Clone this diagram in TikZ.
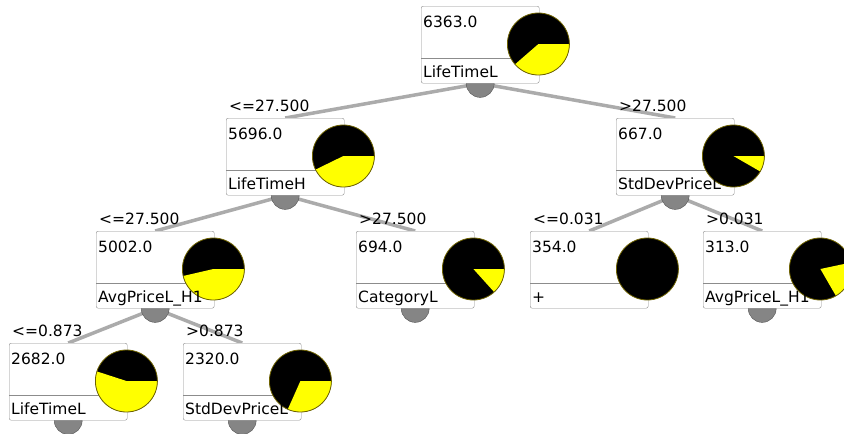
\documentclass[tikz,border=0pt]{standalone}
\usepackage{fontspec}
\setmainfont{DejaVu Sans}
\usetikzlibrary{calc}
\pgfdeclarelayer{bglayer}
\pgfdeclarelayer{edgelayer}
\pgfdeclarelayer{knoblayer}
\pgfsetlayers{bglayer,edgelayer,knoblayer,main}
\definecolor{boxgray}{HTML}{8C8C8C}
\definecolor{edgegray}{HTML}{ABABAB}
\definecolor{knobfill}{HTML}{858585}
\definecolor{knobline}{HTML}{555555}
\definecolor{pieyellow}{HTML}{FFFF00}
\definecolor{pieline}{HTML}{6E6200}
\tikzset{
  box/.style={draw=boxgray, fill=white, rounded corners=2pt, minimum width=118pt,
    minimum height=77pt, inner sep=0pt, anchor=north west},
  knob/.style={circle, draw=knobline, fill=knobfill, minimum size=28pt, inner sep=0pt},
  treeedge/.style={draw=edgegray, line width=3.5pt},
  txt/.style={anchor=base west, inner sep=0pt, font=\fontsize{15.5pt}{18pt}\selectfont},
  piering/.style={draw=pieline, line width=0.8pt},
}
\newcommand\tnode[7]{%
  \node[box] (#1) at (#2,#3) {};
  \draw[boxgray] ($(#1.north west)+(0,52)$) -- ($(#1.north east)+(0,52)$);
  \coordinate (#1-pc) at ($(#1.north east)+(-1,38)$);
  \fill[black] (#1-pc) circle[radius=31pt];
  \ifdim #6pt=#7pt\else
  \fill[pieyellow] (#1-pc) -- ++(#6:31pt) arc[start angle=#6, end angle=#7, radius=31pt] -- cycle;
  \fi
  \draw[piering] (#1-pc) circle[radius=31pt];
  \node[txt] (#1-count) at ($(#1.north west)+(2,21)$) {#4};
  \node[txt] (#1-attr) at ($(#1.north west)+(2,71)$) {#5};
}
\newcommand\elabel[2]{%
  \node[txt] (#1-lbl) at ($(#1.north west)+(3,-7)$) {#2};
}
\begin{document}
\begin{tikzpicture}[x=1pt, y=-1pt]
\useasboundingbox (0,0) rectangle (844,434);
\begin{pgfonlayer}{bglayer}
  \fill[white] (0,0) rectangle (844,434);
\end{pgfonlayer}
\tnode{root}{421}{6}{6363.0}{LifeTimeL}{221}{360}
\tnode{a}{226}{118}{5696.0}{LifeTimeH}{206}{360}
\tnode{b}{616}{118}{667.0}{StdDevPriceL}{-30}{0}
\tnode{aa}{96}{231}{5002.0}{AvgPriceL\_H1}{193}{360}
\tnode{ab}{356}{231}{694.0}{CategoryL}{-48}{0}
\tnode{ba}{530}{231}{354.0}{+}{0}{0}
\tnode{bb}{703}{231}{313.0}{AvgPriceL\_H1}{-60}{12}
\tnode{aaa}{9}{343}{2682.0}{LifeTimeL}{162}{360}
\tnode{aab}{183}{343}{2320.0}{StdDevPriceL}{246}{360}
\begin{pgfonlayer}{knoblayer}
  \foreach \n in {root,a,b,aa,ab,bb,aaa,aab}{\node[knob] (\n-k) at (\n.south) {};}
\end{pgfonlayer}
\begin{pgfonlayer}{edgelayer}
  \draw[treeedge] (root-k.center) -- (a.north);
  \draw[treeedge] (root-k.center) -- (b.north);
  \draw[treeedge] (a-k.center) -- (aa.north);
  \draw[treeedge] (a-k.center) -- (ab.north);
  \draw[treeedge] (b-k.center) -- (ba.north);
  \draw[treeedge] (b-k.center) -- (bb.north);
  \draw[treeedge] (aa-k.center) -- (aaa.north);
  \draw[treeedge] (aa-k.center) -- (aab.north);
\end{pgfonlayer}
\elabel{a}{<=27.500}
\elabel{b}{>27.500}
\elabel{aa}{<=27.500}
\elabel{ab}{>27.500}
\elabel{ba}{<=0.031}
\elabel{bb}{>0.031}
\elabel{aaa}{<=0.873}
\elabel{aab}{>0.873}
\end{tikzpicture}
\end{document}
